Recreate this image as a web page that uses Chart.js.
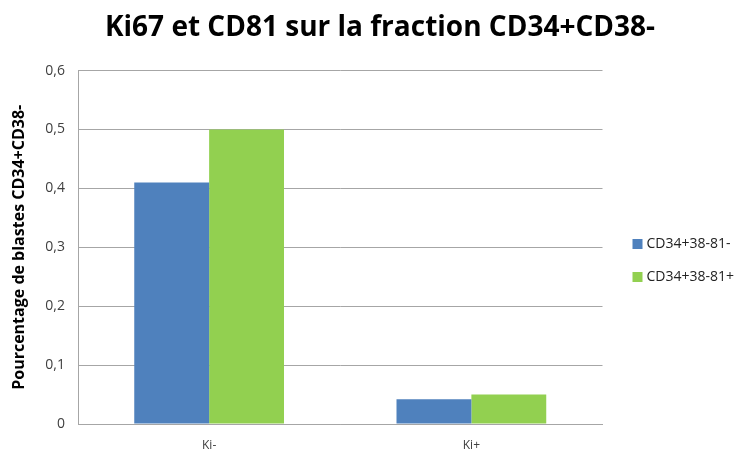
<!DOCTYPE html>
<html lang="fr">
<head>
    <meta charset="UTF-8">
    <title>Ki67 et CD81 sur la fraction CD34+CD38-</title>
    <script src="https://cdn.jsdelivr.net/npm/chart.js"></script>
    <style>
        body {
            margin: 0;
            background: #fff;
        }
        canvas {
            display: block;
        }
    </style>
</head>
<body>
    <canvas id="kiChart" width="750" height="454"></canvas>

    <script>
        // Données
        const categories = ['Ki-', 'Ki+'];
        const seriesNames = ['CD34+38-81-', 'CD34+38-81+'];
        const cd81Neg = [0.41, 0.042];
        const cd81Pos = [0.5, 0.05];
        const yTickLabels = ['0', '0,1', '0,2', '0,3', '0,4', '0,5', '0,6'];

        const gridColor = '#a6a6a6';
        const fontFamily = '"Open Sans", "DejaVu Sans", sans-serif';

        // Légende dessinée à droite du graphique
        const sideLegend = {
            id: 'sideLegend',
            afterDraw(chart) {
                const ctx = chart.ctx;
                const x = chart.chartArea.right + 30;
                ctx.save();
                ctx.font = '14px ' + fontFamily;
                ctx.textBaseline = 'middle';
                chart.data.datasets.forEach((ds, i) => {
                    const y = 244 + i * 33;
                    ctx.fillStyle = ds.backgroundColor;
                    ctx.fillRect(x, y - 5, 10, 10);
                    ctx.fillStyle = '#222';
                    ctx.fillText(ds.label, x + 14, y);
                });
                ctx.restore();
            }
        };

        const ctx = document.getElementById('kiChart').getContext('2d');
        new Chart(ctx, {
            type: 'bar',
            data: {
                labels: categories,
                datasets: [{
                    label: seriesNames[0],
                    data: cd81Neg,
                    backgroundColor: '#4f81bd',
                    categoryPercentage: 0.571,
                    barPercentage: 1
                }, {
                    label: seriesNames[1],
                    data: cd81Pos,
                    backgroundColor: '#92d050',
                    categoryPercentage: 0.571,
                    barPercentage: 1
                }]
            },
            options: {
                responsive: false,
                animation: false,
                layout: {
                    padding: { left: 10, right: 0, top: 0, bottom: 0 }
                },
                plugins: {
                    legend: { display: false },
                    tooltip: { enabled: false },
                    title: {
                        display: true,
                        text: 'Ki67 et CD81 sur la fraction CD34+CD38-',
                        color: '#000',
                        font: { family: fontFamily, size: 28, weight: 'bold' },
                        padding: { top: 11, bottom: 26 }
                    }
                },
                scales: {
                    x: {
                        grid: { display: false, drawTicks: false },
                        border: { display: true, color: gridColor },
                        ticks: {
                            color: '#404040',
                            font: { family: fontFamily, size: 12 },
                            padding: 14
                        },
                        afterFit(scale) { scale.height = 30; }
                    },
                    y: {
                        min: 0,
                        max: 0.6,
                        grid: { color: gridColor, drawTicks: false },
                        border: { display: true, color: gridColor },
                        ticks: {
                            stepSize: 0.1,
                            color: '#404040',
                            font: { family: fontFamily, size: 14 },
                            padding: 13,
                            callback: (value, i) => yTickLabels[i]
                        },
                        title: {
                            display: true,
                            text: 'Pourcentage de blastes CD34+CD38-',
                            color: '#000',
                            font: { family: fontFamily, size: 16, weight: 'bold' },
                            padding: { top: 0, bottom: 0 }
                        },
                        afterFit(scale) { scale.width = 68; }
                    },
                    // axe vide qui réserve la place de la légende
                    side: {
                        position: 'right',
                        display: true,
                        grid: { display: false },
                        border: { display: false },
                        ticks: { display: false },
                        afterFit(scale) { scale.width = 147.5; }
                    }
                }
            },
            plugins: [sideLegend]
        });
    </script>
</body>
</html>
